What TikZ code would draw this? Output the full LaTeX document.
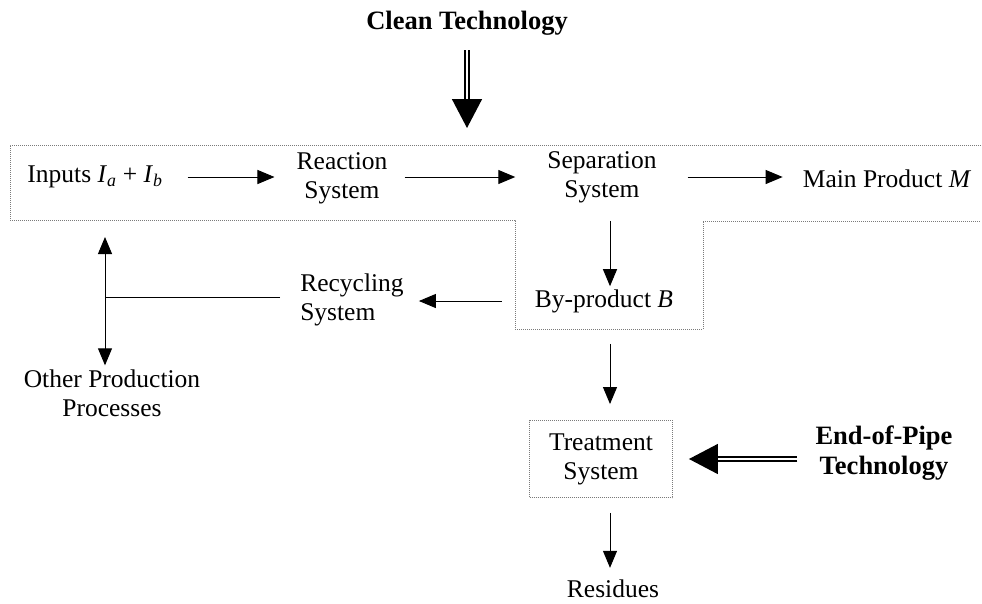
\documentclass[tikz,border=0pt]{standalone}
\usepackage{fontspec}
\setmainfont{Liberation Serif}
\usepackage{tikz}
\usetikzlibrary{arrows.meta}
\definecolor{outlinegray}{HTML}{7A7A7A}
\tikzset{
  txt/.style={font=\fontsize{25.5}{29}\selectfont, align=center, inner sep=2pt},
  techtxt/.style={txt, font=\fontsize{26.5}{30}\selectfont\bfseries},
  boxed/.style={txt, draw=outlinegray, dash pattern=on 1pt off 1pt, line width=0.9pt,
    minimum width=143pt, minimum height=77pt},
  outline/.style={draw=outlinegray, dash pattern=on 1pt off 1pt, line width=0.9pt},
  flow/.style={-{Triangle[length=17pt,width=14pt]}, line width=1pt},
  techflow/.style={-{Triangle[length=29pt,width=30pt]}, double, double distance=2.5pt, line width=1.5pt},
}

\begin{document}
\begin{tikzpicture}[x=1pt,y=-1pt]
\useasboundingbox (0,0) rectangle (982,603);

% process boundary
\draw[outline] (981,145) -- (10,145) -- (10,220) -- (515,220) -- (515,329)
  -- (703,329) -- (703,221) -- (981,221);

\node[techtxt] (clean) at (467,23) {Clean Technology};
\node[txt] (inputs) at (95,177) {Inputs \textit{I}\textsubscript{\textit{a}} + \textit{I}\textsubscript{\textit{b}}};
\node[txt] (reaction) at (342,178) {Reaction\\System};
\node[txt] (separation) at (602,177) {Separation\\System};
\node[txt] (main) at (887,179) {Main Product \textit{M}};
\node[txt] (byprod) at (604,301) {By-product \textit{B}};
\node[txt, align=left] (recycling) at (352,300) {Recycling\\System};
\node[txt] (other) at (112,393) {Other Production\\Processes};
\node[boxed] (treatment) at (601,459) {Treatment\\System};
\node[techtxt] (endpipe) at (884,453) {End-of-Pipe\\Technology};
\node[txt] (residues) at (613,589) {Residues};

\coordinate (cleanin) at (467,128);
\coordinate (vline) at (610,0);
\coordinate (junction) at (105,297);
\coordinate (boxin) at (105,237);

\draw[techflow, shorten <=13pt] (clean) -- (cleanin);
\draw[flow, shorten <=23pt, shorten >=20pt] (inputs) -- (inputs -| reaction.west);
\draw[flow, shorten <=15pt, shorten >=30pt] (reaction.east |- inputs) -- (separation.west |- inputs);
\draw[flow, shorten <=29pt, shorten >=18pt] (separation.east |- inputs) -- (main.west |- inputs);
\draw[flow, shorten <=16pt, shorten >=1pt] (separation.south -| vline) -- (byprod.north -| vline);
\draw[flow, shorten <=31pt, shorten >=13pt] (byprod.west) -- (recycling.east |- byprod.west);
\draw[line width=1pt, shorten <=18pt] (recycling.west |- junction) -- (junction);
\draw[flow] (junction) -- (boxin);
\draw[flow, shorten >=2pt] (junction) -- (other.north -| junction);
\draw[flow, shorten <=29pt, shorten >=16pt] (byprod.south -| vline) -- (treatment.north -| vline);
\draw[techflow, shorten <=16pt, shorten >=16pt] (endpipe.west |- treatment) -- (treatment.east);
\draw[flow, shorten <=15pt, shorten >=10pt] (treatment.south -| vline) -- (residues.north -| vline);
\end{tikzpicture}
\end{document}
